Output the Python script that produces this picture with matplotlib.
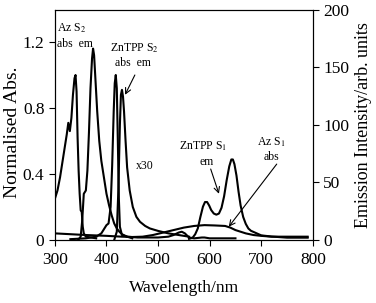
import matplotlib
matplotlib.use("Agg")
import matplotlib.pyplot as plt

plt.rcParams["font.family"] = ["Liberation Serif", "DejaVu Serif"]
plt.rcParams["mathtext.fontset"] = "stix"

# Az S2 absorption (normalised)
az_abs_x = [300, 305, 310, 315, 320, 323, 326, 329, 332, 335, 338, 340, 342, 344, 346, 348, 350, 352, 354, 356, 360, 370, 380]
az_abs_y = [0.25, 0.30, 0.38, 0.48, 0.58, 0.64, 0.71, 0.66, 0.74, 0.88, 0.98, 1.0, 0.9, 0.62, 0.42, 0.28, 0.18, 0.17, 0.08, 0.04, 0.02, 0.015, 0.01]

# Az S2 emission (normalised)
az_em_x = [345, 350, 353, 356, 360, 363, 366, 369, 372, 374, 376, 379, 382, 386, 390, 395, 400, 405, 410, 415, 420, 425, 430, 440, 450]
az_em_y = [0.0, 0.02, 0.12, 0.28, 0.30, 0.42, 0.65, 0.92, 1.1, 1.16, 1.12, 0.95, 0.78, 0.6, 0.48, 0.38, 0.28, 0.21, 0.15, 0.1, 0.07, 0.05, 0.035, 0.02, 0.01]

# ZnTPP absorption (normalised)
zn_abs_x = [330, 360, 380, 390, 396, 400, 404, 408, 411, 414, 416, 418, 420, 422, 424, 426, 430, 440, 460, 500, 520, 530, 540, 546, 552, 560, 570, 585, 590, 600, 620, 650]
zn_abs_y = [0.005, 0.01, 0.02, 0.04, 0.07, 0.09, 0.1, 0.2, 0.45, 0.78, 0.95, 1.0, 0.92, 0.6, 0.25, 0.08, 0.03, 0.02, 0.015, 0.015, 0.02, 0.03, 0.045, 0.05, 0.04, 0.015, 0.01, 0.015, 0.015, 0.01, 0.01, 0.01]

# ZnTPP S2 emission (normalised)
zn_em2_x = [415, 420, 423, 426, 428, 430, 432, 434, 437, 440, 445, 451, 458, 465, 475, 484, 500, 520, 540, 560]
zn_em2_y = [0.0, 0.05, 0.3, 0.7, 0.88, 0.91, 0.87, 0.78, 0.6, 0.44, 0.3, 0.2, 0.14, 0.11, 0.085, 0.07, 0.055, 0.04, 0.03, 0.02]

# ZnTPP S1 emission (arb. units, right axis)
zn_em1_x = [560, 567, 572, 577, 582, 587, 591, 595, 599, 603, 608, 613, 618, 623, 628, 633, 638, 642, 645, 648, 652, 656, 660, 665, 670, 675, 680, 690, 700, 720, 750, 790]
zn_em1_y = [1, 2, 5, 10, 20, 29, 33, 33, 30, 26, 23, 22, 23, 28, 38, 52, 64, 70, 70, 66, 56, 42, 30, 20, 14, 10, 8, 6, 4, 3, 2, 2]

# Az S1 absorption (x30)
az_s1_x = [300, 330, 360, 400, 430, 450, 470, 490, 510, 530, 550, 570, 590, 610, 630, 640, 650, 660, 670, 685, 700, 720, 750, 790]
az_s1_y = [0.04, 0.035, 0.03, 0.025, 0.02, 0.018, 0.02, 0.03, 0.045, 0.06, 0.075, 0.085, 0.09, 0.088, 0.085, 0.075, 0.06, 0.05, 0.04, 0.03, 0.025, 0.02, 0.02, 0.02]

fig = plt.figure(figsize=(3.76, 3.03), dpi=100)
ax = fig.add_axes([0.146, 0.208, 0.686, 0.759])
ax2 = ax.twinx()
ax2.set_position(ax.get_position())

lw = 1.5
ax.plot(az_abs_x, az_abs_y, color="black", lw=lw)
ax.plot(az_em_x, az_em_y, color="black", lw=lw)
ax.plot(zn_abs_x, zn_abs_y, color="black", lw=lw)
ax.plot(zn_em2_x, zn_em2_y, color="black", lw=lw)
ax.plot(az_s1_x, az_s1_y, color="black", lw=lw)
ax2.plot(zn_em1_x, zn_em1_y, color="black", lw=lw)

ax.set_xlim(300, 800)
ax.set_ylim(0, 1.394)
ax2.set_ylim(0, 200)
ax.set_xticks([300, 400, 500, 600, 700, 800])
ax.set_yticks([0, 0.4, 0.8, 1.2])
ax.set_yticklabels(["0", "0.4", "0.8", "1.2"])
ax2.set_yticks([0, 50, 100, 150, 200])
ax.tick_params(labelsize=12.5, direction="out", length=4)
ax.tick_params(axis="x", pad=5)
ax2.tick_params(labelsize=12.5, direction="out", length=4)

ax.set_xlabel("Wavelength/nm", fontsize=12.5, labelpad=8)
ax.set_ylabel("Normalised Abs.", fontsize=14, labelpad=0)
ax.yaxis.set_label_coords(-0.13, 0.47)
ax2.set_ylabel("Emission Intensity/arb. units", fontsize=13, labelpad=4)

fs = 8.5
ax.text(333, 1.285, "Az S$_2$", fontsize=fs, ha="center", va="center")
ax.text(339, 1.19, "abs  em", fontsize=fs, ha="center", va="center")
ax.text(455, 1.16, "ZnTPP S$_2$", fontsize=fs, ha="center", va="center")
ax.text(451, 1.07, "abs  em", fontsize=fs, ha="center", va="center")
ax.text(474, 0.45, "x30", fontsize=fs, ha="center", va="center")
ax.text(587, 0.57, "ZnTPP S$_1$", fontsize=fs, ha="center", va="center")
ax.text(595, 0.47, "em", fontsize=fs, ha="center", va="center")
ax.text(720, 0.59, "Az S$_1$", fontsize=fs, ha="center", va="center")
ax.text(720, 0.50, "abs", fontsize=fs, ha="center", va="center")

arrow = dict(arrowstyle="->", lw=0.8, color="black", shrinkA=0, shrinkB=0)
ax.annotate("", xy=(436, 0.88), xytext=(455, 1.0), arrowprops=arrow)
ax.annotate("", xy=(618, 0.28), xytext=(602, 0.43), arrowprops=arrow)
ax.annotate("", xy=(637, 0.08), xytext=(730, 0.46), arrowprops=arrow)

fig.savefig("out.png", dpi=100)
